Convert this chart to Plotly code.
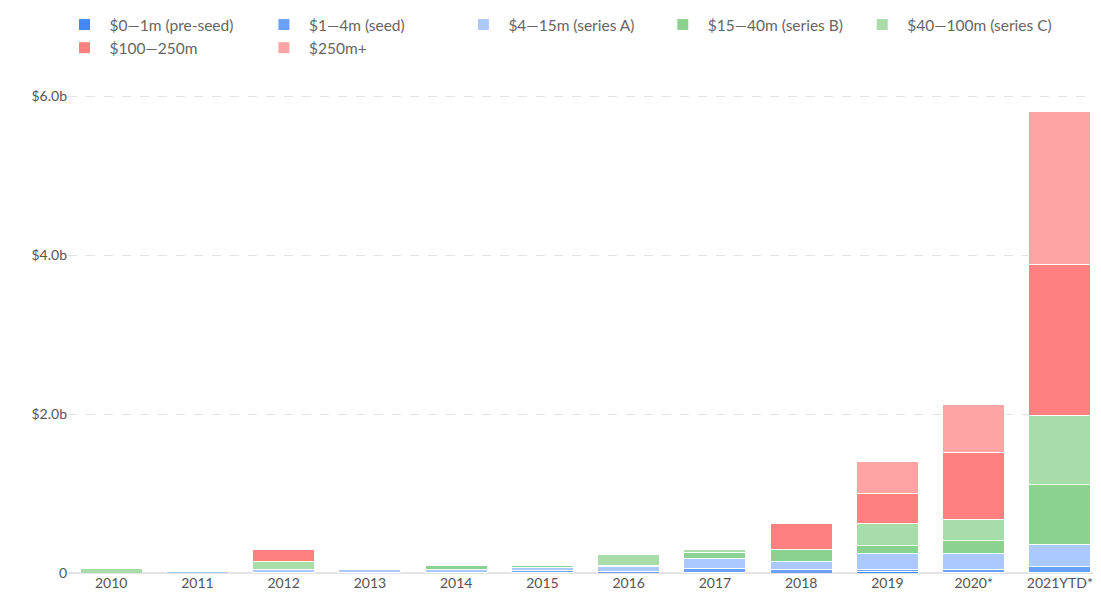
import plotly.graph_objects as go

years = ["2010","2011","2012","2013","2014","2015","2016","2017","2018","2019","2020*","2021YTD*"]
series_names = ["$0—1m (pre-seed)","$1—4m (seed)","$4—15m (series A)","$15—40m (series B)","$40—100m (series C)","$100—250m","$250m+"]
pre_seed = [0,0,0,0,0,0.01,0,0.01,0,0.02,0.01,0.01]
seed     = [0,0,0.01,0.01,0.01,0.02,0.02,0.05,0.05,0.03,0.04,0.07]
series_a = [0,0.02,0.03,0.04,0.03,0.04,0.06,0.12,0.10,0.20,0.19,0.28]
series_b = [0,0,0,0,0.05,0.02,0.01,0.08,0.14,0.10,0.17,0.75]
series_c = [0.06,0,0.10,0,0.01,0.01,0.14,0.04,0.01,0.27,0.27,0.87]
r100_250 = [0,0,0.16,0,0,0,0,0,0.32,0.38,0.84,1.90]
r250p    = [0,0,0,0,0,0,0,0,0,0.40,0.60,1.93]
colors = ["#4287f5","#6aa0f8","#abc9fd","#8bd18f","#a8dda9","#ff8080","#ffa4a4"]

fig = go.Figure()
for name, vals, c in zip(series_names, [pre_seed,seed,series_a,series_b,series_c,r100_250,r250p], colors):
    fig.add_trace(go.Bar(x=years, y=vals, name=name, marker=dict(color=c, line=dict(color="white", width=1))))

fig.update_layout(
    barmode="stack", bargap=0.28, width=1101, height=603,
    paper_bgcolor="white", plot_bgcolor="white",
    font=dict(family="Source Sans Pro, Lato, sans-serif", size=14, color="#555"),
    margin=dict(l=60, r=6, t=87, b=38, autoexpand=False),
    legend=dict(orientation="h", x=0.5, xanchor="center", xref="container",
                y=1.0, yanchor="top", yref="container", traceorder="normal",
                font=dict(size=15.5, color="#666"), itemwidth=40),
    xaxis=dict(showline=False, ticks="", tickfont=dict(color="#555")),
    yaxis=dict(range=[0,6.02], tickvals=[0,2,4,6], ticktext=["0","$2.0b","$4.0b","$6.0b"],
               gridcolor="#e3e3e3", griddash="dash", zeroline=True, zerolinecolor="#e3e3e3",
               tickfont=dict(color="#555")),
)
fig.write_html("out.html")
